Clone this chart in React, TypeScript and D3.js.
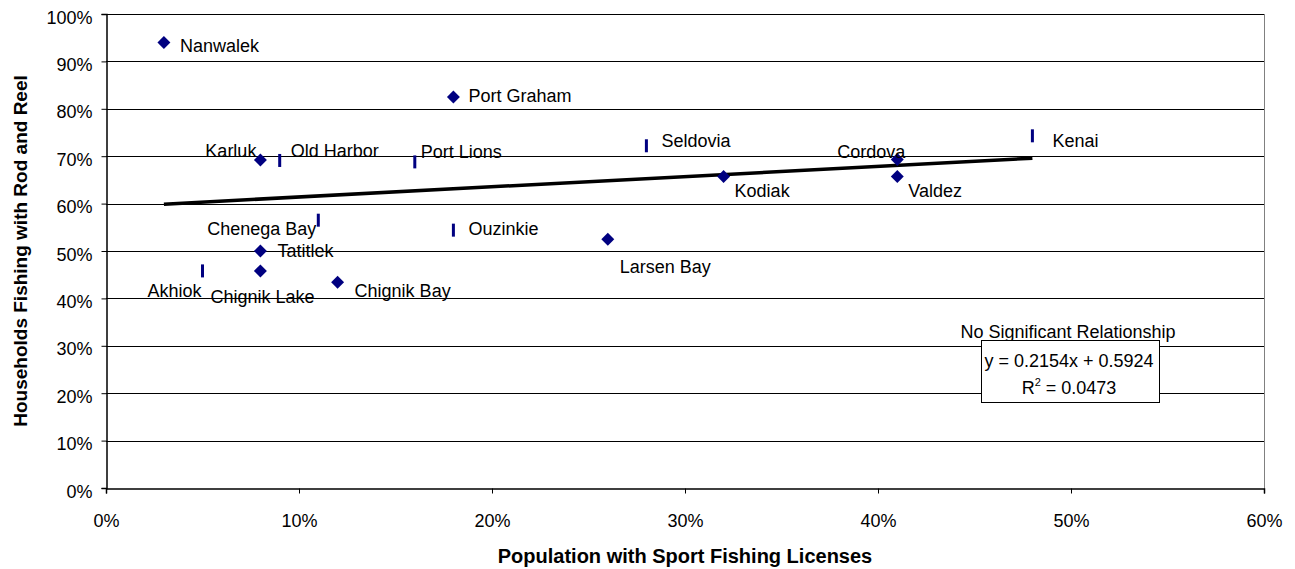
import { useEffect, useRef } from "react";
import * as d3 from "d3";

// villages shown as diamonds
const diamondNames = ["Nanwalek", "Port Graham", "Karluk", "Tatitlek", "Chignik Lake", "Chignik Bay", "Larsen Bay", "Kodiak", "Cordova", "Valdez"];
const diamondX = [0.03, 0.18, 0.08, 0.08, 0.08, 0.12, 0.26, 0.32, 0.41, 0.41];
const diamondY = [0.94, 0.825, 0.692, 0.50, 0.458, 0.434, 0.525, 0.657, 0.693, 0.657];

// villages shown as dashes
const dashNames = ["Akhiok", "Old Harbor", "Port Lions", "Chenega Bay", "Ouzinkie", "Seldovia", "Kenai"];
const dashX = [0.05, 0.09, 0.16, 0.11, 0.18, 0.28, 0.48];
const dashY = [0.458, 0.691, 0.688, 0.565, 0.544, 0.722, 0.743];

const xTicks = [0, 0.1, 0.2, 0.3, 0.4, 0.5, 0.6];
const yTicks = [0, 0.1, 0.2, 0.3, 0.4, 0.5, 0.6, 0.7, 0.8, 0.9, 1.0];

const slope = 0.2154;
const intercept = 0.5924;
const trendRange = [0.03, 0.48];

// label placement: px offset of baseline from marker, text anchor
const labelPos: Record<string, [number, number, string]> = {
  Nanwalek: [16, 10, "start"],
  "Port Graham": [15, 5, "start"],
  Karluk: [-4, -3, "end"],
  Tatitlek: [17, 6, "start"],
  "Chignik Lake": [-50, 32, "start"],
  "Chignik Bay": [17, 15, "start"],
  "Larsen Bay": [12, 34, "start"],
  Kodiak: [11, 20, "start"],
  Cordova: [8, -2, "end"],
  Valdez: [11, 20, "start"],
  Akhiok: [-1, 26, "end"],
  "Old Harbor": [11, -3, "start"],
  "Port Lions": [6, -4, "start"],
  "Chenega Bay": [-2, 15, "end"],
  Ouzinkie: [15, 5, "start"],
  Seldovia: [15, 1, "start"],
  Kenai: [20, 11, "start"],
};

const font = "'Liberation Sans', Arial, sans-serif";

export default function App() {
  const ref = useRef<SVGSVGElement | null>(null);
  const width = 1295;
  const height = 569;

  useEffect(() => {
    const svg = d3.select(ref.current);
    svg.selectAll("*").remove();

    const x = d3.scaleLinear().domain([0, 0.6]).range([106, 1264]);
    const y = d3.scaleLinear().domain([0, 1]).range([488, 14]);
    const pct = d3.format(".0%");

    svg.append("rect").attr("width", width).attr("height", height).attr("fill", "#fff");

    // gridlines
    svg.append("g")
      .selectAll("line")
      .data(yTicks.slice(1))
      .enter()
      .append("line")
      .attr("x1", x(0)).attr("x2", x(0.6))
      .attr("y1", d => Math.round(y(d)) + 0.5).attr("y2", d => Math.round(y(d)) + 0.5)
      .attr("stroke", "#000").attr("stroke-width", 1);

    // right border
    svg.append("line")
      .attr("x1", x(0.6) + 0.5).attr("x2", x(0.6) + 0.5)
      .attr("y1", y(1)).attr("y2", y(0))
      .attr("stroke", "#808080");

    // axes
    const xAxis = svg.append("g").attr("transform", `translate(0,${Math.round(y(0)) + 0.5})`)
      .call(d3.axisBottom(x).tickValues(xTicks).tickFormat(d => pct(d as number)).tickSize(5).tickPadding(21));
    const yAxis = svg.append("g").attr("transform", `translate(${Math.round(x(0)) + 0.5},0)`)
      .call(d3.axisLeft(y).tickValues(yTicks).tickFormat(d => pct(d as number)).tickSize(5).tickPadding(9));
    [xAxis, yAxis].forEach(a => {
      a.select(".domain").attr("stroke", "#000").attr("stroke-width", 1.5);
      a.selectAll(".tick line").attr("stroke", "#000");
      a.selectAll(".tick text").attr("font-family", font).attr("font-size", 18).attr("fill", "#000");
    });
    yAxis.selectAll(".tick text").attr("dy", "0.5em");

    // trendline
    svg.append("line")
      .attr("x1", x(trendRange[0])).attr("y1", y(slope * trendRange[0] + intercept))
      .attr("x2", x(trendRange[1])).attr("y2", y(slope * trendRange[1] + intercept))
      .attr("stroke", "#000").attr("stroke-width", 3.5);

    const navy = "#000080";

    // diamonds
    const diamond = d3.symbol().type(d3.symbolSquare).size(84);
    svg.append("g")
      .selectAll("path")
      .data(diamondNames)
      .enter()
      .append("path")
      .attr("d", diamond()!)
      .attr("transform", (_d, i) => `translate(${x(diamondX[i])},${y(diamondY[i])}) rotate(45)`)
      .attr("fill", navy);

    // dashes
    svg.append("g")
      .selectAll("rect")
      .data(dashNames)
      .enter()
      .append("rect")
      .attr("x", (_d, i) => x(dashX[i]) - 1.5)
      .attr("y", (_d, i) => y(dashY[i]) - 6.5)
      .attr("width", 3).attr("height", 13)
      .attr("fill", navy);

    // labels
    const allNames = [...diamondNames, ...dashNames];
    const allX = [...diamondX, ...dashX];
    const allY = [...diamondY, ...dashY];
    svg.append("g")
      .selectAll("text")
      .data(allNames)
      .enter()
      .append("text")
      .attr("x", (d, i) => x(allX[i]) + labelPos[d][0])
      .attr("y", (d, i) => y(allY[i]) + labelPos[d][1])
      .attr("text-anchor", d => labelPos[d][2])
      .attr("font-family", font).attr("font-size", 18).attr("fill", "#000")
      .text(d => d);

    // regression text box
    svg.append("text")
      .attr("x", 1068).attr("y", 338)
      .attr("text-anchor", "middle")
      .attr("font-family", font).attr("font-size", 18)
      .text("No Significant Relationship");
    svg.append("rect")
      .attr("x", 981.5).attr("y", 340.5).attr("width", 178).attr("height", 62)
      .attr("fill", "#fff").attr("stroke", "#000");
    svg.append("text")
      .attr("x", 1069).attr("y", 367)
      .attr("text-anchor", "middle")
      .attr("font-family", font).attr("font-size", 18)
      .text(`y = ${slope}x + ${intercept}`);
    const r2 = svg.append("text")
      .attr("x", 1069).attr("y", 394)
      .attr("text-anchor", "middle")
      .attr("font-family", font).attr("font-size", 18);
    r2.append("tspan").text("R");
    r2.append("tspan").attr("dy", -8).attr("font-size", 11).text("2");
    r2.append("tspan").attr("dy", 8).text(" = 0.0473");

    // axis titles
    svg.append("text")
      .attr("x", (x(0) + x(0.6)) / 2).attr("y", 563)
      .attr("text-anchor", "middle")
      .attr("font-family", font).attr("font-size", 20).attr("font-weight", "bold")
      .text("Population with Sport Fishing Licenses");
    svg.append("text")
      .attr("transform", `translate(27,${(y(0) + y(1)) / 2}) rotate(-90)`)
      .attr("text-anchor", "middle")
      .attr("font-family", font).attr("font-size", 19).attr("font-weight", "bold")
      .text("Households Fishing with Rod and Reel");
  }, []);

  return (
    <svg ref={ref} width={width} height={height} style={{ position: "absolute", left: 0, top: 0 }} />
  );
}
